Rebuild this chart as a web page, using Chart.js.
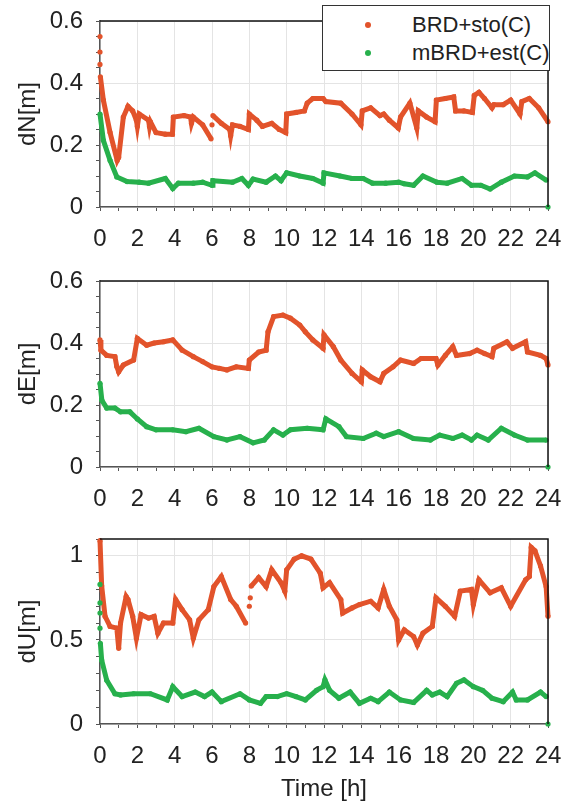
<!DOCTYPE html>
<html>
<head>
<meta charset="utf-8">
<script src="https://cdn.jsdelivr.net/npm/chart.js@4.4.1/dist/chart.umd.min.js"></script>
<style>
  body { margin: 0; background: #fff; font-family: 'Liberation Sans', Arial, sans-serif; }
  #fig { position: relative; width: 563px; height: 808px; overflow: hidden; }
  #fig canvas { position: absolute; left: 0; }
  #legend {
    position: absolute; left: 322px; top: 5px; width: 228px; height: 66px;
    box-sizing: border-box; border: 1px solid #333; background: #fff; z-index: 2;
  }
  .row { position: absolute; left: 0; height: 26px; width: 100%; }
  .dot { position: absolute; left: 42px; top: 10px; width: 6px; height: 6px; border-radius: 50%; }
  .txt { position: absolute; left: 89px; top: 0; font-size: 22px; line-height: 26px; color: #222; white-space: nowrap; }
</style>
</head>
<body>
<div id="fig">
  <canvas id="c-n" width="563" height="260" style="top:0"></canvas>
  <canvas id="c-e" width="563" height="260" style="top:260px"></canvas>
  <canvas id="c-u" width="563" height="288" style="top:520px"></canvas>
  <div id="legend"></div>
</div>
<script>
const LABELS = ['BRD+sto(C)', 'mBRD+est(C)']
const RED = '#e2532b'
const GREEN = '#27b04c'

// [hour, metres]; null breaks the trace
const dN_sto = [
  [0, 0.55], [0, null], [0, 0.50], [0, null], [0, 0.46], [0, null],
  [0.02, 0.42], [0.18, 0.345], [0.54, 0.24], [0.92, 0.15], [1.0, 0.16], [1.25, 0.29], [1.5, 0.325],
  [1.75, 0.31], [1.95, 0.28], [2.0, 0.26], [2.1, 0.30], [2.6, 0.28], [2.65, 0.26], [2.7, 0.275],
  [3.0, 0.24], [3.5, 0.235], [3.88, 0.235], [3.93, 0.29], [4.5, 0.295], [4.85, 0.29], [4.9, 0.27],
  [5.0, 0.29], [5.5, 0.265], [5.95, 0.22], [5.98, null], [6.0, 0.265], [6.02, null], [6.05, 0.295],
  [6.5, 0.27], [6.95, 0.25], [7.0, 0.23], [7.1, 0.265], [7.5, 0.26], [7.95, 0.25], [8.0, 0.30],
  [8.4, 0.28], [8.7, 0.26], [9.2, 0.27], [9.6, 0.25], [9.95, 0.24], [10.0, 0.30], [10.5, 0.305],
  [10.95, 0.31], [11.1, 0.335], [11.4, 0.35], [11.95, 0.35], [12.1, 0.34], [12.9, 0.335], [13.5, 0.30],
  [13.98, 0.265], [14.05, 0.31], [14.5, 0.32], [15.0, 0.295], [15.2, 0.30], [15.5, 0.28], [15.98, 0.255],
  [16.1, 0.29], [16.6, 0.335], [16.97, 0.255], [17.05, 0.31], [17.5, 0.29], [17.95, 0.275], [18.02, 0.345],
  [18.5, 0.35], [18.95, 0.355], [19.05, 0.31], [19.5, 0.31], [19.95, 0.305], [20.05, 0.36], [20.3, 0.37],
  [20.6, 0.35], [21.0, 0.32], [21.1, 0.33], [21.6, 0.33], [22.0, 0.345], [22.5, 0.30], [22.6, 0.34],
  [23.0, 0.35], [23.5, 0.32], [24, 0.275],
]
const dN_est = [
  [0, 0.30], [0.18, 0.215], [0.54, 0.15], [0.9, 0.097], [1.45, 0.082], [2.1, 0.08], [2.6, 0.077],
  [3.5, 0.092], [3.9, 0.06], [4.2, 0.077], [5.0, 0.077], [5.5, 0.08], [6.0, 0.07], [6.05, 0.085],
  [7.1, 0.08], [7.6, 0.092], [7.95, 0.07], [8.2, 0.09], [8.9, 0.08], [9.4, 0.1], [9.7, 0.085],
  [10.0, 0.11], [10.7, 0.1], [11.4, 0.092], [11.95, 0.077], [12.0, 0.11], [12.86, 0.1], [13.5, 0.092],
  [14.1, 0.092], [14.6, 0.077], [15.3, 0.077], [16.0, 0.08], [16.3, 0.075], [16.8, 0.07], [17.3, 0.1],
  [18.05, 0.08], [18.6, 0.077], [19.4, 0.092], [19.9, 0.07], [20.4, 0.07], [20.9, 0.058], [21.5, 0.08],
  [22.2, 0.1], [22.9, 0.097], [23.3, 0.11], [23.9, 0.087], [23.95, null], [24, 0],
]
const dE_sto = [
  [0, 0.41], [0.05, 0.377], [0.36, 0.36], [0.8, 0.356], [0.9, 0.324], [1.0, 0.307], [1.25, 0.329],
  [1.8, 0.345], [2.0, 0.415], [2.5, 0.393], [2.9, 0.40], [3.4, 0.404], [3.9, 0.41], [4.4, 0.377],
  [5.0, 0.356], [5.5, 0.34], [6.0, 0.323], [6.4, 0.318], [6.8, 0.313], [7.3, 0.323], [7.95, 0.318],
  [8.0, 0.345], [8.5, 0.371], [8.9, 0.377], [9.0, 0.436], [9.3, 0.485], [9.8, 0.49], [10.2, 0.48],
  [10.7, 0.458], [11.0, 0.436], [11.4, 0.41], [11.95, 0.383], [12.0, 0.426], [12.5, 0.388], [12.9, 0.345],
  [13.5, 0.302], [14.0, 0.275], [14.05, 0.313], [14.5, 0.291], [15.0, 0.275], [15.2, 0.302], [15.7, 0.323],
  [16.1, 0.345], [16.8, 0.334], [17.2, 0.35], [18.0, 0.35], [18.1, 0.329], [18.5, 0.36], [18.9, 0.388],
  [19.1, 0.36], [19.8, 0.366], [20.2, 0.377], [20.6, 0.366], [21.0, 0.356], [21.1, 0.383], [21.8, 0.404],
  [22.1, 0.383], [22.8, 0.404], [22.9, 0.371], [23.6, 0.36], [23.9, 0.35], [24, 0.329],
]
const dE_est = [
  [0, 0.27], [0.1, 0.215], [0.36, 0.19], [0.8, 0.19], [1.1, 0.178], [1.6, 0.178], [2.0, 0.155],
  [2.5, 0.13], [3.0, 0.12], [3.9, 0.12], [4.6, 0.114], [5.3, 0.125], [6.1, 0.098], [6.8, 0.087],
  [7.5, 0.098], [8.2, 0.078], [8.8, 0.087], [9.3, 0.12], [9.8, 0.103], [10.2, 0.12], [11.1, 0.125],
  [11.95, 0.12], [12.1, 0.155], [12.8, 0.13], [13.2, 0.098], [14.1, 0.092], [14.8, 0.109], [15.2, 0.098],
  [16.0, 0.114], [16.8, 0.092], [17.7, 0.087], [18.2, 0.103], [18.9, 0.092], [19.4, 0.103], [19.9, 0.087],
  [20.2, 0.103], [20.8, 0.087], [21.5, 0.125], [22.2, 0.103], [22.9, 0.087], [23.9, 0.087], [23.95, null], [24, 0],
]
const dU_sto = [
  [0, 1.09], [0.09, 0.82], [0.27, 0.64], [0.54, 0.58], [0.9, 0.57], [1.0, 0.45], [1.1, 0.60],
  [1.4, 0.758], [1.5, 0.74], [1.75, 0.64], [1.95, 0.51], [2.2, 0.65], [2.6, 0.63], [2.9, 0.64],
  [3.1, 0.54], [3.4, 0.60], [3.9, 0.60], [4.05, 0.74], [4.4, 0.68], [4.8, 0.62], [5.0, 0.51],
  [5.3, 0.62], [5.8, 0.68], [6.1, 0.817], [6.5, 0.877], [7.0, 0.74], [7.3, 0.70], [7.8, 0.60],
  [7.85, null], [8.0, 0.70], [8.0, null], [8.05, 0.75], [8.07, null], [8.1, 0.82], [8.5, 0.87],
  [8.9, 0.817], [9.2, 0.917], [9.7, 0.84], [9.9, 0.79], [10.0, 0.917], [10.4, 0.98], [10.8, 1.0],
  [11.3, 0.98], [11.8, 0.897], [11.95, 0.81], [12.3, 0.84], [12.9, 0.74], [13.0, 0.66], [13.5, 0.69],
  [13.9, 0.71], [14.5, 0.73], [14.9, 0.69], [15.2, 0.80], [15.5, 0.70], [15.9, 0.62], [16.0, 0.50],
  [16.3, 0.56], [16.8, 0.52], [17.0, 0.47], [17.3, 0.54], [17.8, 0.58], [18.0, 0.75], [18.5, 0.70],
  [19.0, 0.64], [19.3, 0.79], [19.9, 0.80], [20.0, 0.71], [20.3, 0.857], [20.9, 0.78], [21.5, 0.81],
  [22.0, 0.70], [22.8, 0.857], [23.0, 0.877], [23.1, 1.05], [23.3, 1.03], [23.6, 0.94], [23.9, 0.817],
  [24, 0.64],
]
const dU_est = [
  [0, 0.83], [0, null], [0, 0.72], [0, null], [0, 0.66], [0, null], [0, 0.57], [0, null],
  [0.02, 0.48], [0.09, 0.38], [0.36, 0.26], [0.8, 0.18], [1.1, 0.173], [1.8, 0.18], [2.7, 0.18],
  [3.6, 0.143], [3.9, 0.222], [4.4, 0.163], [5.1, 0.19], [5.6, 0.163], [6.0, 0.19], [6.5, 0.133],
  [7.5, 0.18], [8.0, 0.143], [8.6, 0.123], [8.9, 0.163], [9.5, 0.163], [10.0, 0.18], [10.5, 0.163],
  [11.0, 0.143], [11.6, 0.2], [11.95, 0.222], [12.05, 0.262], [12.3, 0.2], [12.8, 0.153], [13.4, 0.19],
  [13.9, 0.123], [14.5, 0.153], [14.9, 0.133], [15.5, 0.19], [16.1, 0.143], [16.8, 0.128], [17.5, 0.2],
  [17.8, 0.173], [18.2, 0.19], [18.6, 0.163], [19.1, 0.242], [19.5, 0.262], [20.0, 0.222], [20.5, 0.2],
  [21.0, 0.153], [21.6, 0.133], [22.1, 0.19], [22.3, 0.143], [22.9, 0.143], [23.6, 0.19], [23.9, 0.163],
  [23.95, null], [24, 0],
]

const X_MAX = 24
const FONT = "'Liberation Sans', Arial, sans-serif"

// top and right edges of the box are black, left/bottom axes are grey
const frame = {
  id: 'frame',
  afterDatasetsDraw(chart) {
    const { ctx, chartArea: a } = chart
    ctx.save()
    ctx.strokeStyle = '#111'
    ctx.lineWidth = 1.5
    ctx.beginPath()
    ctx.moveTo(a.left, a.top)
    ctx.lineTo(a.right, a.top)
    ctx.lineTo(a.right, a.bottom)
    ctx.stroke()
    ctx.restore()
  },
}

function series(rows, color, label) {
  return {
    label,
    data: rows.map(([x, y]) => ({ x, y })),
    borderColor: color,
    backgroundColor: color,
    borderWidth: 5,
    pointRadius: 2.6,
    pointBorderWidth: 0,
    tension: 0,
    spanGaps: false,
    clip: false,
  }
}

const near = (v, step) => Math.abs(v / step - Math.round(v / step)) < 1e-6

function panel(id, sto, est, o) {
  new Chart(document.getElementById(id), {
    type: 'line',
    data: { datasets: [series(est, GREEN, LABELS[1]), series(sto, RED, LABELS[0])] },
    plugins: [frame],
    options: {
      responsive: false,
      animation: false,
      layout: { padding: { top: o.padTop, right: 15, left: 0, bottom: 0 } },
      plugins: { legend: { display: false }, tooltip: { enabled: false } },
      scales: {
        x: {
          type: 'linear',
          min: 0,
          max: X_MAX,
          // fixed box; label overhang must not shrink the plot
          afterFit: s => { s.height = o.xHeight; s.paddingLeft = 0; s.paddingRight = 0 },
          border: { color: '#555', width: 1.5 },
          grid: {
            color: c => (c.tick && c.tick.value % 2 === 0 ? '#e4e4e4' : 'rgba(0,0,0,0)'),
            tickColor: '#555',
            tickLength: 4,
          },
          ticks: {
            stepSize: 1,
            autoSkip: false,
            maxRotation: 0,
            padding: 14,
            color: '#222',
            font: { size: 24, family: FONT },
            callback: v => (v % 2 === 0 ? String(v) : ''),
          },
          title: {
            display: !!o.xTitle,
            text: o.xTitle || '',
            color: '#222',
            padding: { top: 0, bottom: 4 },
            font: { size: 24, family: FONT },
          },
        },
        y: {
          min: 0,
          max: o.yMax,
          afterFit: s => { s.width = 100; s.paddingTop = 0; s.paddingBottom = 0 },
          border: { color: '#555', width: 1.5 },
          grid: {
            color: c => (c.tick && near(c.tick.value, o.yMajor) ? '#e4e4e4' : 'rgba(0,0,0,0)'),
            tickColor: '#555',
            tickLength: 4,
          },
          ticks: {
            stepSize: o.yMinor,
            autoSkip: false,
            padding: 13,
            color: '#222',
            font: { size: 24, family: FONT },
            callback: v => (near(v, o.yMajor) && v <= o.yLabelMax + 1e-9 ? String(Number(v.toFixed(2))) : ''),
          },
          title: {
            display: true,
            text: o.yTitle,
            color: '#222',
            padding: { top: 14, bottom: 0 },
            font: { size: 24, family: FONT },
          },
        },
      },
    },
  })
}

panel('c-n', dN_sto, dN_est, { padTop: 21, xHeight: 53, yMax: 0.6, yMinor: 0.05, yMajor: 0.2, yLabelMax: 0.6, yTitle: 'dN[m]' })
panel('c-e', dE_sto, dE_est, { padTop: 21, xHeight: 53, yMax: 0.6, yMinor: 0.05, yMajor: 0.2, yLabelMax: 0.6, yTitle: 'dE[m]' })
panel('c-u', dU_sto, dU_est, { padTop: 19, xHeight: 84, yMax: 1.1, yMinor: 0.1, yMajor: 0.5, yLabelMax: 1, yTitle: 'dU[m]', xTitle: 'Time [h]' })

// legend box overlapping the top panel
const legend = document.getElementById('legend')
;[[LABELS[0], RED, 6], [LABELS[1], GREEN, 34]].forEach(([text, color, top]) => {
  const row = document.createElement('div')
  row.className = 'row'
  row.style.top = top + 'px'
  row.innerHTML = `<span class="dot" style="background:${color}"></span><span class="txt">${text}</span>`
  legend.appendChild(row)
})
</script>
</body>
</html>
